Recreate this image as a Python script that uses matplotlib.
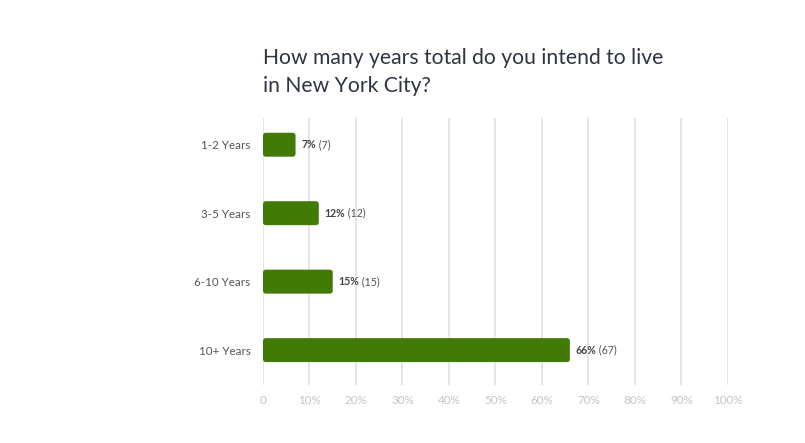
import numpy as np
import matplotlib
matplotlib.use("Agg")
import matplotlib.pyplot as plt
from matplotlib.patches import FancyBboxPatch

plt.rcParams['font.family'] = ['Lato', 'DejaVu Sans']

# dati
categories = ["1-2 Years", "3-5 Years", "6-10 Years", "10+ Years"]
percents = [7, 12, 15, 66]
counts = [7, 12, 15, 67]
xticks = [0, 10, 20, 30, 40, 50, 60, 70, 80, 90, 100]
xtick_labels = ["0", "10%", "20%", "30%", "40%", "50%", "60%", "70%", "80%", "90%", "100%"]

bar_color = "#417a04"

fig = plt.figure(figsize=(8.05, 4.43), dpi=100)
ax = fig.add_axes([0.3267, 0.1309, 0.5776, 0.6027])

y = np.arange(len(categories))
bars = ax.barh(y, percents, height=0.35, color=bar_color)

# angoli arrotondati
for b in bars:
    x0, y0 = b.get_x(), b.get_y()
    w, h = b.get_width(), b.get_height()
    b.set_visible(False)
    p = FancyBboxPatch((x0, y0), w, h, boxstyle="round,pad=0,rounding_size=0.6",
                       mutation_aspect=0.068, facecolor=bar_color, edgecolor="none", zorder=3)
    ax.add_patch(p)

ax.set_xlim(0, 100)
ax.set_ylim(len(categories) - 1 + 0.51, -0.39)

for i, (p, c) in enumerate(zip(percents, counts)):
    t = ax.annotate(f"{p}%", xy=(p, i), xytext=(4, 0), textcoords="offset points",
                    va="center", ha="left", fontsize=7.6, fontweight="bold", color="#444444")
    ax.annotate(f" ({c})", xy=(1, 0.5), xycoords=t, va="center", ha="left",
                fontsize=7.6, color="#555555")

ax.set_xticks(xticks)
ax.set_xticklabels(xtick_labels, fontsize=8.4, color="#c4c4c4")
ax.set_yticks(y)
ax.set_yticklabels(categories, fontsize=8.4, color="#555555")
ax.tick_params(length=0, pad=7)
ax.tick_params(axis="y", pad=9)

ax.grid(axis="x", color="#e3e3e3", linewidth=1.3, zorder=0)
ax.set_axisbelow(True)
for s in ax.spines.values():
    s.set_visible(False)

fig.text(263 / 805, 1 - 72 / 443, "How many years total do you intend to live\nin New York City?",
         ha="left", va="center", fontsize=15.2, color="#2e3440", linespacing=1.45)

fig.savefig("out.png", dpi=100)
plt.close()
